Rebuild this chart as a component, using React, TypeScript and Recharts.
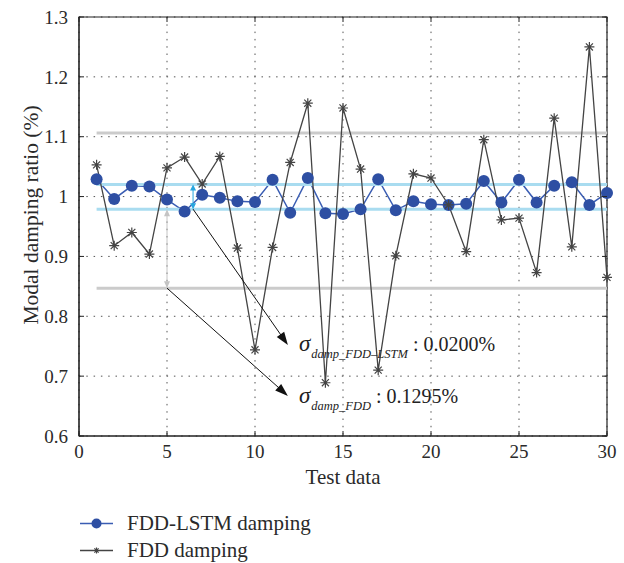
import React from 'react';
import {
  ComposedChart,
  Line,
  XAxis,
  YAxis,
  CartesianGrid,
  ReferenceLine,
  ReferenceArea,
  ReferenceDot,
  Legend,
  Label,
} from 'recharts';

// test index on the x axis
const testIdx = [
  1, 2, 3, 4, 5, 6, 7, 8, 9, 10, 11, 12, 13, 14, 15,
  16, 17, 18, 19, 20, 21, 22, 23, 24, 25, 26, 27, 28, 29, 30,
];

// modal damping ratio (%)
const lstmDamping = [
  1.029, 0.996, 1.018, 1.017, 0.995, 0.975, 1.003, 0.998, 0.992, 0.991,
  1.028, 0.973, 1.031, 0.972, 0.971, 0.979, 1.029, 0.977, 0.992, 0.987,
  0.986, 0.988, 1.026, 0.99, 1.028, 0.99, 1.018, 1.024, 0.986, 1.006,
];
const fddDamping = [
  1.053, 0.918, 0.94, 0.904, 1.048, 1.066, 1.021, 1.067, 0.914, 0.744,
  0.915, 1.057, 1.156, 0.689, 1.148, 1.046, 0.71, 0.901, 1.038, 1.031,
  0.986, 0.908, 1.095, 0.961, 0.964, 0.873, 1.131, 0.916, 1.25, 0.865,
];

// mean +/- sigma bands
const fddBand = [0.847, 1.106];
const lstmBand = [0.979, 1.02];

const xTicks = [0, 5, 10, 15, 20, 25, 30];
const yTicks = [0.6, 0.7, 0.8, 0.9, 1, 1.1, 1.2, 1.3];

const sigmaLabels = [
  { sub: 'damp_FDD\u2013LSTM', value: ': 0.0200%' },
  { sub: 'damp_FDD', value: ': 0.1295%' },
];

const rows = testIdx.map((x, i) => ({ x, lstm: lstmDamping[i], fdd: fddDamping[i] }));

// pixel box of the plot (chart sits at 0,0)
const PL = 79;
const PR = 607;
const PT = 17;
const PB = 436;

const FONT = '"Liberation Serif", "DejaVu Serif", serif';
const TXT = '#2a2a2a';
const BLUE = '#2e4fa3';
const BLUE_LINE = '#3a5db3';
const GRAY = '#444444';
const CYAN = '#a9dcf0';
const BAND_GRAY = '#cbcbcb';

const Star = ({ cx, cy, r = 5, color = GRAY }: any) => {
  const d = r * 0.707;
  return (
    <path
      d={`M${cx - r},${cy}H${cx + r}M${cx},${cy - r}V${cy + r}M${cx - d},${cy - d}L${cx + d},${cy + d}M${cx - d},${cy + d}L${cx + d},${cy - d}`}
      stroke={color}
      strokeWidth={1.2}
      fill="none"
    />
  );
};

const XTick = ({ x, y, payload }: any) => (
  <g>
    <line x1={x} x2={x} y1={PB} y2={PB - 5} stroke="#222" />
    <line x1={x} x2={x} y1={PT} y2={PT + 5} stroke="#222" />
    <text x={x} y={y} dy="0.71em" textAnchor="middle" fontSize={19} fontFamily={FONT} fill={TXT}>
      {payload.value}
    </text>
  </g>
);

const YTick = ({ x, y, payload }: any) => (
  <g>
    <line x1={PL} x2={PL + 5} y1={y} y2={y} stroke="#222" />
    <line x1={PR - 5} x2={PR} y1={y} y2={y} stroke="#222" />
    <text x={x} y={y} dy="0.355em" textAnchor="end" fontSize={19} fontFamily={FONT} fill={TXT}>
      {payload.value === 1 ? '1' : Number(payload.value).toFixed(1)}
    </text>
  </g>
);

// line with arrow heads
const arrow = (color: string, w: number, head: number, hw: number, both: boolean) => (p: any) => {
  const { x1, y1, x2, y2 } = p;
  const len = Math.hypot(x2 - x1, y2 - y1) || 1;
  const ux = (x2 - x1) / len;
  const uy = (y2 - y1) / len;
  const tri = (tx: number, ty: number, dx: number, dy: number) => {
    const bx = tx - dx * head;
    const by = ty - dy * head;
    return `${tx},${ty} ${bx - dy * hw},${by + dx * hw} ${bx + dy * hw},${by - dx * hw}`;
  };
  return (
    <g>
      <line
        x1={both ? x1 + ux * head * 0.8 : x1}
        y1={both ? y1 + uy * head * 0.8 : y1}
        x2={x2 - ux * head * 0.8}
        y2={y2 - uy * head * 0.8}
        stroke={color}
        strokeWidth={w}
      />
      <polygon points={tri(x2, y2, ux, uy)} fill={color} />
      {both && <polygon points={tri(x1, y1, -ux, -uy)} fill={color} />}
    </g>
  );
};

const sigmaText = (i: number) => (p: any) => (
  <text x={p.cx} y={p.cy} fontFamily={FONT} fill="#222">
    <tspan fontStyle="italic" fontSize={23}>σ</tspan>
    <tspan fontStyle="italic" fontSize={12.5} dy={7} dx={1}>{sigmaLabels[i].sub}</tspan>
    <tspan fontSize={20} dy={-7} dx={5}>{sigmaLabels[i].value}</tspan>
  </text>
);

const renderLegend = () => (
  <div style={{ fontFamily: FONT, fontSize: 21, color: TXT, lineHeight: '27px' }}>
    <div style={{ display: 'flex', alignItems: 'center', height: 27 }}>
      <svg width={36} height={27}>
        <line x1={2} x2={35} y1={13.5} y2={13.5} stroke={BLUE_LINE} strokeWidth={1.5} />
        <circle cx={18.5} cy={13.5} r={5} fill={BLUE} />
      </svg>
      <span style={{ marginLeft: 13 }}>FDD-LSTM damping</span>
    </div>
    <div style={{ display: 'flex', alignItems: 'center', height: 27 }}>
      <svg width={36} height={27}>
        <line x1={2} x2={35} y1={13.5} y2={13.5} stroke={GRAY} strokeWidth={1.3} />
        <Star cx={18.5} cy={13.5} r={3} />
      </svg>
      <span style={{ marginLeft: 13 }}>FDD damping</span>
    </div>
  </div>
);

export default function App() {
  return (
    <div style={{ position: 'absolute', left: 0, top: 0, width: 624, height: 563, background: '#fff' }}>
      <ComposedChart width={624} height={563} data={rows} margin={{ top: 17, right: 17, bottom: 67, left: 0 }}>
        <CartesianGrid stroke="#555" strokeDasharray="1.5 5.8" />
        <XAxis
          type="number"
          dataKey="x"
          domain={[0, 30]}
          ticks={xTicks}
          height={60}
          tickSize={0}
          tickMargin={9}
          tick={<XTick />}
          axisLine={{ stroke: '#222' }}
          tickLine={false}
        >
          <Label value="Test data" position="insideBottom" offset={12} fontSize={21} fontFamily={FONT} fill={TXT} />
        </XAxis>
        <YAxis
          type="number"
          domain={[0.6, 1.3]}
          ticks={yTicks}
          width={79}
          tickSize={0}
          tickMargin={11}
          tick={<YTick />}
          axisLine={{ stroke: '#222' }}
          tickLine={false}
          label={
            <Label
              content={() => (
                <text
                  x={31}
                  y={215}
                  transform="rotate(-90 31 215)"
                  textAnchor="middle"
                  dominantBaseline="central"
                  fontSize={21.5}
                  fontFamily={FONT}
                  fill={TXT}
                >
                  Modal damping ratio (%)
                </text>
              )}
            />
          }
        />
        <ReferenceArea x1={0} x2={30} y1={0.6} y2={1.3} fill="none" stroke="#222" strokeWidth={1.2} ifOverflow="visible" />
        <Line
          dataKey="lstm"
          name="FDD-LSTM damping"
          stroke={BLUE_LINE}
          strokeWidth={1.5}
          dot={{ r: 6, fill: BLUE, stroke: 'none' }}
          isAnimationActive={false}
        />
        {fddBand.map((v) => (
          <ReferenceLine key={`g${v}`} segment={[{ x: 1, y: v }, { x: 30, y: v }]} stroke={BAND_GRAY} strokeWidth={3} />
        ))}
        {lstmBand.map((v) => (
          <ReferenceLine key={`c${v}`} segment={[{ x: 1, y: v }, { x: 30, y: v }]} stroke={CYAN} strokeWidth={3} />
        ))}
        <Line
          dataKey="fdd"
          name="FDD damping"
          stroke={GRAY}
          strokeWidth={1.3}
          dot={(p: any) => <Star key={`s${p.index}`} cx={p.cx} cy={p.cy} />}
          isAnimationActive={false}
        />
        {/* sigma markers */}
        <ReferenceLine
          segment={[{ x: 5, y: fddBand[0] }, { x: 5, y: lstmBand[0] }]}
          shape={arrow('#c4c4c4', 1, 7, 3, true)}
        />
        <ReferenceLine
          segment={[{ x: 6.48, y: lstmBand[0] }, { x: 6.48, y: lstmBand[1] }]}
          shape={arrow('#27a6df', 1, 6, 3, true)}
        />
        <ReferenceLine
          segment={[{ x: 6.48, y: lstmBand[0] }, { x: 11.87, y: 0.752 }]}
          shape={arrow('#111', 1, 13, 4.5, false)}
        />
        <ReferenceLine
          segment={[{ x: 5, y: fddBand[0] }, { x: 11.87, y: 0.667 }]}
          shape={arrow('#111', 1, 13, 4.5, false)}
        />
        <ReferenceDot x={12.5} y={0.7425} r={0} shape={sigmaText(0)} />
        <ReferenceDot x={12.5} y={0.6555} r={0} shape={sigmaText(1)} />
        <Legend
          layout="vertical"
          align="center"
          verticalAlign="middle"
          content={renderLegend}
          wrapperStyle={{ left: 78, top: 510, width: 320 }}
        />
      </ComposedChart>
    </div>
  );
}
